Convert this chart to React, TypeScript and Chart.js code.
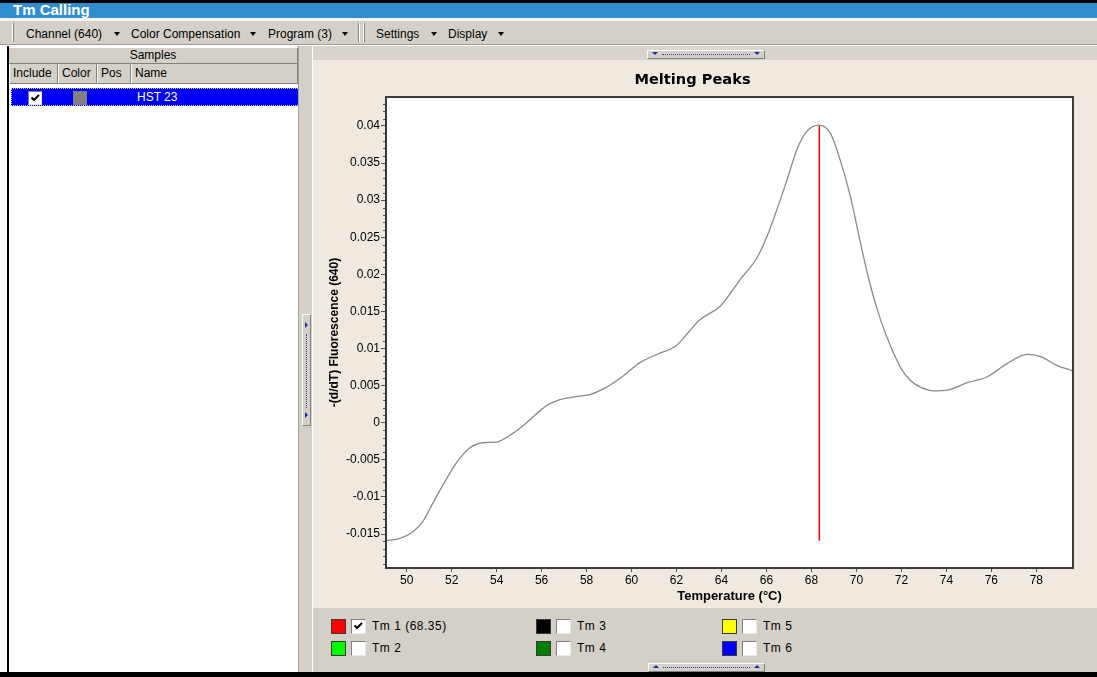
import React, { useEffect, useRef } from "react";
import { Chart, registerables } from "chart.js";

Chart.register(...registerables);

// ---------- data ----------
const temperatures = [
  49.08, 49.7, 50.28, 50.72, 51.17, 51.61, 52.21, 52.8, 53.4, 53.99, 54.73, 55.33,
  56.22, 56.81, 57.7, 58.15, 58.89, 59.63, 60.37, 61.2, 62.0, 62.5, 63.05, 63.94,
  64.83, 65.57, 66.02, 66.46, 66.91, 67.35, 67.8, 68.35, 68.84, 69.28, 69.73, 70.18,
  70.63, 71.07, 71.52, 71.97, 72.4, 72.85, 73.44, 74.04, 74.93, 75.82, 76.71, 77.6,
  78.19, 78.93, 79.63,
];
const derivative = [
  -0.0159, -0.0156, -0.0147, -0.0133, -0.0108, -0.0084, -0.0054, -0.0034, -0.0027, -0.0026, -0.0014, 0.0,
  0.0023, 0.0031, 0.0036, 0.0038, 0.0048, 0.0063, 0.0081, 0.0093, 0.0104, 0.0121, 0.0139, 0.0157,
  0.0193, 0.0222, 0.0251, 0.0287, 0.0327, 0.0368, 0.0393, 0.0401, 0.039, 0.0354, 0.0305, 0.0242,
  0.0184, 0.0139, 0.0103, 0.0074, 0.0057, 0.0048, 0.0043, 0.0044, 0.0054, 0.0062, 0.008, 0.0092,
  0.0089, 0.0077, 0.007,
];
const tmTemperature = 68.35;
const tmLineRange = [-0.0159, 0.0401];
const xRange = [49.08, 79.63];
const yRange = [-0.01958, 0.0439];
const xStep = 2;
const yMajorStep = 0.005;
const yMinorStep = 0.001;

const tmNames = ["Tm 1", "Tm 2", "Tm 3", "Tm 4", "Tm 5", "Tm 6"];
const tmColors = ["#ff0000", "#00ff00", "#000000", "#008000", "#ffff00", "#0000ff"];
const tmChecked = [true, false, false, false, false, false];
const tmValues: (number | null)[] = [tmTemperature, null, null, null, null, null];

const toolbarItems = ["Channel (640)", "Color Compensation", "Program (3)", "Settings", "Display"];
const sampleColumns = ["Include", "Color", "Pos", "Name"];
const sampleName = "HST 23";

const FONT = "'Liberation Sans', Arial, sans-serif";

const abs = (s: React.CSSProperties): React.CSSProperties => ({
  position: "absolute",
  boxSizing: "border-box",
  ...s,
});

const DownTri = ({ left, top, color = "#000", size = 3.5 }: any) => (
  <div
    style={abs({
      left,
      top,
      width: 0,
      height: 0,
      borderLeft: `${size}px solid transparent`,
      borderRight: `${size}px solid transparent`,
      borderTop: `${size + 0.5}px solid ${color}`,
    })}
  />
);
const UpTri = ({ left, top, color = "#000", size = 3.5 }: any) => (
  <div
    style={abs({
      left,
      top,
      width: 0,
      height: 0,
      borderLeft: `${size}px solid transparent`,
      borderRight: `${size}px solid transparent`,
      borderBottom: `${size + 0.5}px solid ${color}`,
    })}
  />
);
const RightTri = ({ left, top, color = "#000", size = 3 }: any) => (
  <div
    style={abs({
      left,
      top,
      width: 0,
      height: 0,
      borderTop: `${size}px solid transparent`,
      borderBottom: `${size}px solid transparent`,
      borderLeft: `${size + 0.5}px solid ${color}`,
    })}
  />
);

const Check = ({ left, top, checked, size = 14 }: any) => (
  <div
    style={abs({
      left,
      top,
      width: size,
      height: size,
      background: "#fff",
      borderTop: "1px solid #808080",
      borderLeft: "1px solid #808080",
      borderRight: "1px solid #e8e8e8",
      borderBottom: "1px solid #e8e8e8",
    })}
  >
    {checked && (
      <svg width={size - 2} height={size - 2} style={{ position: "absolute", left: 0, top: 0 }}>
        <path d="M2.5 5.5 L5 8 L10 3" stroke="#000" strokeWidth="2" fill="none" />
      </svg>
    )}
  </div>
);

const fmt = (v: number) => String(+v.toFixed(4));

const chartPlugin = {
  id: "frameAndMinor",
  beforeDatasetsDraw(chart: any) {
    const { ctx, chartArea: a } = chart;
    ctx.save();
    ctx.fillStyle = "#ffffff";
    ctx.fillRect(a.left, a.top, a.right - a.left, a.bottom - a.top);
    ctx.restore();
  },
  afterDraw(chart: any) {
    const { ctx, chartArea: a, scales } = chart;
    const y = scales.y;
    ctx.save();
    ctx.strokeStyle = "#555";
    ctx.lineWidth = 1;
    ctx.beginPath();
    const k0 = Math.ceil(y.min / yMinorStep);
    const k1 = Math.floor(y.max / yMinorStep);
    for (let k = k0; k <= k1; k++) {
      if (k % 5 === 0) continue;
      const py = Math.round(y.getPixelForValue(k * yMinorStep)) + 0.5;
      ctx.moveTo(a.left - 3, py);
      ctx.lineTo(a.left, py);
    }
    ctx.stroke();
    ctx.strokeStyle = "#3a3a3a";
    ctx.lineWidth = 2;
    ctx.strokeRect(a.left, a.top, a.right - a.left, a.bottom - a.top);
    ctx.restore();
  },
};

function MeltChart() {
  const ref = useRef<HTMLCanvasElement | null>(null);
  useEffect(() => {
    if (!ref.current) return;
    Chart.defaults.font.family = FONT;
    const curve = temperatures.map((t, i) => ({ x: t, y: derivative[i] }));
    const tmLine = tmLineRange.map((v) => ({ x: tmTemperature, y: v }));
    const chart = new Chart(ref.current, {
      type: "line",
      data: {
        datasets: [
          {
            label: "HST 23",
            data: curve,
            borderColor: "#8a8a8a",
            borderWidth: 1.3,
            pointRadius: 0,
            cubicInterpolationMode: "monotone",
            fill: false,
          },
          {
            label: "Tm 1",
            data: tmLine,
            borderColor: "#ff0000",
            borderWidth: 1.5,
            pointRadius: 0,
            fill: false,
          },
        ],
      },
      options: {
        animation: false,
        responsive: false,
        maintainAspectRatio: false,
        events: [],
        layout: { padding: { left: 0, right: 24, top: 0, bottom: 0 } },
        plugins: {
          legend: { display: false },
          tooltip: { enabled: false },
          title: {
            display: true,
            text: "Melting Peaks",
            color: "#000",
            font: { family: "'DejaVu Sans', sans-serif", size: 14.6, weight: "bold", lineHeight: 1.2 },
            padding: { top: 11.2, bottom: 8.3 },
          },
        },
        scales: {
          x: {
            type: "linear",
            min: xRange[0],
            max: xRange[1],
            afterFit: (s: any) => {
              s.height = 40;
            },
            border: { display: false },
            grid: { drawOnChartArea: false, drawTicks: true, tickLength: 4, color: "#555", tickColor: "#555" },
            ticks: {
              stepSize: xStep,
              includeBounds: false,
              autoSkip: false,
              maxRotation: 0,
              color: "#000",
              padding: 1,
              font: { size: 12 },
              callback: (v: any) => fmt(Number(v)),
            },
            title: {
              display: true,
              text: "Temperature (°C)",
              color: "#000",
              font: { size: 13, weight: "bold", lineHeight: 1.2 },
              padding: { top: 0, bottom: 4 },
            },
          },
          y: {
            type: "linear",
            min: yRange[0],
            max: yRange[1],
            afterFit: (s: any) => {
              s.width = 74;
            },
            border: { display: false },
            grid: { drawOnChartArea: false, drawTicks: true, tickLength: 5, color: "#555", tickColor: "#555" },
            ticks: {
              stepSize: yMajorStep,
              includeBounds: false,
              autoSkip: false,
              color: "#000",
              padding: 1,
              font: { size: 12 },
              callback: (v: any) => fmt(Number(v)),
            },
            title: {
              display: true,
              text: "-(d/dT) Fluorescence (640)",
              color: "#000",
              font: { size: 12, weight: "bold", lineHeight: 1.2 },
              padding: { top: 15, bottom: 0 },
            },
          },
        },
      } as any,
      plugins: [chartPlugin],
    });
    return () => chart.destroy();
  }, []);
  return (
    <canvas
      ref={ref}
      width={785}
      height={548}
      style={abs({ left: 312, top: 60, width: 785, height: 548 })}
    />
  );
}

export default function App() {
  useEffect(() => {
    document.body.style.margin = "0";
  }, []);

  const toolbarX = [26, 131, 268, 376, 448];
  const arrowX = [114, 250, 342, 431, 498];
  const colLeft = [9, 58, 97, 131];
  const colWidth = [49, 39, 34, 167];
  const legendCols = [331, 536, 722];
  const legendRows = [619, 641];

  return (
    <div
      style={{
        position: "relative",
        width: 1097,
        height: 677,
        overflow: "hidden",
        background: "#fff",
        fontFamily: FONT,
        fontSize: 12,
        color: "#000",
      }}
    >
      {/* title bar */}
      <div style={abs({ left: 0, top: 0, width: 1097, height: 3, background: "#000" })} />
      <div style={abs({ left: 0, top: 3, width: 1097, height: 15, background: "#318ece" })} />
      <div
        style={abs({
          left: 13,
          top: 1,
          height: 18,
          lineHeight: "18px",
          color: "#fff",
          fontWeight: "bold",
          fontSize: 15,
          whiteSpace: "nowrap",
        })}
      >
        Tm Calling
      </div>
      <div style={abs({ left: 0, top: 18, width: 1097, height: 3, background: "#f4f3ee" })} />

      {/* toolbar */}
      <div style={abs({ left: 0, top: 21, width: 1097, height: 25, background: "#d4d0c8" })} />
      <div style={abs({ left: 0, top: 44, width: 1097, height: 1, background: "#a09c94" })} />
      <div style={abs({ left: 0, top: 45, width: 1097, height: 1, background: "#fff" })} />
      <div style={abs({ left: 12, top: 23, width: 1, height: 19, background: "#fff" })} />
      <div style={abs({ left: 13, top: 23, width: 1, height: 19, background: "#808080" })} />
      <div style={abs({ left: 358, top: 23, width: 1, height: 19, background: "#808080" })} />
      <div style={abs({ left: 359, top: 23, width: 1, height: 19, background: "#fff" })} />
      <div style={abs({ left: 363, top: 23, width: 1, height: 19, background: "#fff" })} />
      <div style={abs({ left: 364, top: 23, width: 1, height: 19, background: "#808080" })} />
      {toolbarItems.map((t, i) => (
        <React.Fragment key={t}>
          <div style={abs({ left: toolbarX[i], top: 26, height: 16, lineHeight: "16px", whiteSpace: "nowrap" })}>{t}</div>
          <DownTri left={arrowX[i]} top={32} />
        </React.Fragment>
      ))}

      {/* left panel */}
      <div style={abs({ left: 7, top: 46, width: 2, height: 631, background: "#000" })} />
      <div style={abs({ left: 9, top: 46, width: 289, height: 626, background: "#fff" })} />
      <div
        style={abs({
          left: 9,
          top: 47,
          width: 289,
          height: 17,
          background: "#d4d0c8",
          borderTop: "1px solid #fff",
          borderBottom: "1px solid #808080",
          borderRight: "1px solid #808080",
          textAlign: "center",
          lineHeight: "15px",
        })}
      >
        Samples
      </div>
      {sampleColumns.map((c, i) => (
        <div
          key={c}
          style={abs({
            left: colLeft[i],
            top: 64,
            width: colWidth[i],
            height: 20,
            background: "#d4d0c8",
            borderLeft: "1px solid #fff",
            borderRight: "1px solid #808080",
            borderBottom: "1px solid #808080",
            paddingLeft: 3,
            lineHeight: "19px",
            whiteSpace: "nowrap",
          })}
        >
          {c}
        </div>
      ))}
      <div
        style={abs({
          left: 11,
          top: 88,
          width: 291,
          height: 18,
          background: "#0000f5",
          border: "1px dotted #c8c8ff",
        })}
      />
      <Check left={28} top={91} checked={true} size={14} />
      <div style={abs({ left: 73, top: 91, width: 14, height: 14, background: "#808080" })} />
      <div style={abs({ left: 137, top: 89, height: 16, lineHeight: "16px", color: "#fff", whiteSpace: "nowrap" })}>
        {sampleName}
      </div>

      {/* splitter */}
      <div style={abs({ left: 298, top: 46, width: 14, height: 626, background: "#d4d0c8", borderLeft: "1px solid #a8a49c" })} />
      <div
        style={abs({
          left: 302,
          top: 314,
          width: 9,
          height: 112,
          background: "#d4d0c8",
          borderTop: "1px solid #fff",
          borderLeft: "1px solid #fff",
          borderRight: "1px solid #808080",
          borderBottom: "1px solid #808080",
        })}
      />
      <div style={abs({ left: 306, top: 334, width: 1, height: 74, borderLeft: "1px dotted #3040b0" })} />
      <RightTri left={305} top={322} color="#1a2ca8" />
      <RightTri left={305} top={412} color="#1a2ca8" />

      {/* right panel */}
      <div style={abs({ left: 312, top: 46, width: 785, height: 14, background: "#d8d4cc", borderLeft: "1px solid #fff" })} />
      <div style={abs({ left: 312, top: 60, width: 785, height: 548, background: "#efe9e0", borderLeft: "1px solid #fff" })} />
      <div
        style={abs({
          left: 647,
          top: 50,
          width: 118,
          height: 9,
          background: "#d4d0c8",
          borderTop: "1px solid #fff",
          borderLeft: "1px solid #fff",
          borderRight: "1px solid #808080",
          borderBottom: "1px solid #808080",
        })}
      />
      <div style={abs({ left: 662, top: 54, width: 88, height: 1, borderTop: "1px dotted #3040b0" })} />
      <DownTri left={652} top={52} color="#1a2ca8" size={3} />
      <DownTri left={754} top={52} color="#1a2ca8" size={3} />

      <MeltChart />

      {/* legend panel */}
      <div style={abs({ left: 312, top: 608, width: 785, height: 64, background: "#d4d0c8", borderLeft: "1px solid #fff" })} />
      {tmNames.map((n, i) => {
        const col = Math.floor(i / 2);
        const row = i % 2;
        const x = legendCols[col];
        const y = legendRows[row];
        const label = tmValues[i] != null ? `${n} (${tmValues[i]})` : n;
        return (
          <React.Fragment key={n}>
            <div
              style={abs({
                left: x,
                top: y,
                width: 15,
                height: 15,
                background: tmColors[i],
                border: "1px solid #3a3a3a",
              })}
            />
            <Check left={x + 20} top={y} checked={tmChecked[i]} size={15} />
            <div
              style={abs({
                left: x + 41,
                top: y,
                height: 15,
                lineHeight: "15px",
                whiteSpace: "nowrap",
                letterSpacing: "0.5px",
              })}
            >
              {label}
            </div>
          </React.Fragment>
        );
      })}
      <div
        style={abs({
          left: 648,
          top: 663,
          width: 117,
          height: 9,
          background: "#d4d0c8",
          borderTop: "1px solid #fff",
          borderLeft: "1px solid #fff",
          borderRight: "1px solid #808080",
          borderBottom: "1px solid #808080",
        })}
      />
      <div style={abs({ left: 663, top: 667, width: 87, height: 1, borderTop: "1px dotted #3040b0" })} />
      <UpTri left={653} top={665} color="#1a2ca8" size={3} />
      <UpTri left={754} top={665} color="#1a2ca8" size={3} />

      {/* bottom */}
      <div style={abs({ left: 0, top: 672, width: 1097, height: 5, background: "#000" })} />
    </div>
  );
}
